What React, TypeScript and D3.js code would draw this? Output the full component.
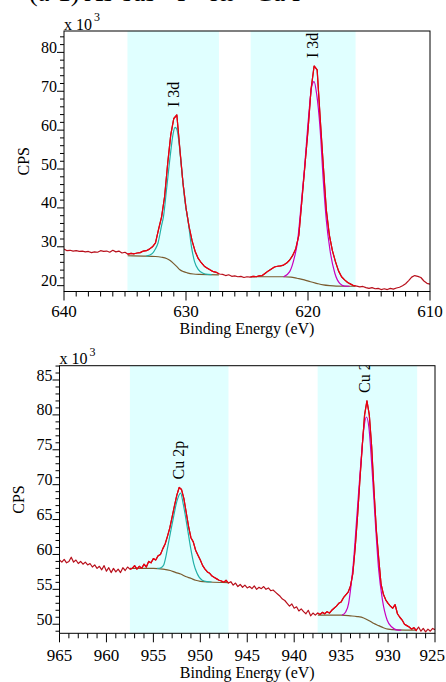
import React from 'react'
import * as d3 from 'd3'

// ---- I 3d panel (top) ----
const iStart = 640
const iStep = 0.25
// measured CPS (x1000), 8 values per 2 eV row
const iData = [
  29.4, 29.0, 29.1, 28.9, 29.0, 28.8, 28.9, 28.7, // 640
  28.8, 28.5, 28.7, 28.6, 29.0, 28.8, 28.9, 28.6, // 638
  29.1, 28.7, 28.9, 28.4, 28.6, 28.1, 28.3, 28.2, // 636
  28.4, 28.5, 28.9, 29.0, 29.4, 30.0, 31.0, 34.5, // 634
  37.7, 43.0, 51.5, 58.8, 63.0, 63.9, 55.0, 46.5, // 632
  40.0, 35.2, 31.5, 28.8, 27.0, 25.9, 25.0, 24.5, // 630
  24.0, 23.6, 23.4, 23.0, 22.9, 22.6, 22.8, 22.4, // 628
  22.5, 22.3, 22.4, 22.1, 22.3, 22.2, 22.4, 22.3, // 626
  22.5, 22.6, 23.2, 23.8, 24.3, 24.8, 25.0, 25.1, // 624
  25.3, 25.8, 26.6, 27.8, 29.5, 33.0, 42.0, 51.0, // 622
  60.0, 70.5, 76.5, 75.5, 63.0, 51.0, 39.5, 33.0, // 620
  29.0, 26.2, 23.8, 22.3, 21.5, 20.8, 20.4, 20.0, // 618
  19.9, 19.7, 19.8, 19.5, 19.3, 19.5, 19.2, 19.3, // 616
  19.0, 19.2, 19.0, 19.3, 19.1, 19.4, 19.6, 20.0, // 614
  20.5, 21.3, 22.2, 22.6, 22.4, 22.1, 21.2, 20.6, // 612
  20.4 // 610
]
const iComp1 = [
  [633.25, 27.6], [632.75, 28.3], [632.5, 29.5], [632.3, 30.9], [632.0, 35.5], [631.85, 37.7],
  [631.6, 44.6], [631.3, 53.2], [631.05, 59.2], [630.9, 60.7], [630.75, 60.2], [630.6, 57.5],
  [630.35, 49.7], [630.1, 42.0], [629.8, 36.0], [629.55, 30.0], [629.3, 26.2], [629.0, 24.2],
  [628.6, 23.2], [628.2, 22.9], [627.9, 22.85]
]
const iBg1 = [
  [634.8, 27.7], [633.5, 27.6], [632.5, 27.5], [632.0, 27.3], [631.6, 27.0], [631.3, 26.5],
  [631.05, 25.8], [630.75, 24.9], [630.5, 24.1], [630.2, 23.6], [629.9, 23.3], [629.4, 23.0],
  [628.9, 22.9], [627.3, 22.8]
]
const iComp2 = [
  [622.0, 22.25], [621.5, 23.6], [621.1, 27.45], [620.85, 31.5], [620.65, 37.7], [620.3, 49.75],
  [619.95, 63.5], [619.7, 71.2], [619.5, 72.5], [619.3, 69.5], [619.0, 60.0], [618.75, 47.2],
  [618.5, 36.9], [618.2, 29.2], [617.8, 23.2], [617.4, 20.6], [617.0, 19.9], [616.6, 19.85]
]
const iBg2 = [
  [624.7, 22.3], [622.0, 22.3], [621.4, 22.2], [620.9, 21.9], [620.3, 21.5], [619.8, 21.0],
  [619.3, 20.6], [618.75, 20.2], [618.2, 20.0], [617.7, 19.9], [616.1, 19.85]
]
const iRegions = [[634.8, 627.3], [624.7, 616.1]]
const iLabels = [[630.85, 'I 3d'], [619.45, 'I 3d']]

// ---- Cu 2p panel (bottom) ----
const cuStart = 965
const cuStep = 0.25
const cuData = [
  59.2, 58.9, 59.3, 58.8, 59.0, 59.6, 58.9, 59.2, // 965
  58.7, 59.0, 58.6, 58.9, 58.5, 58.7, 58.2, 58.5, // 963
  58.0, 58.3, 57.8, 58.4, 57.6, 58.1, 57.4, 58.0, // 961
  57.5, 57.9, 57.4, 58.1, 57.7, 58.2, 57.9, 58.0, // 959
  58.4, 57.9, 58.3, 58.0, 58.6, 58.2, 59.0, 58.8, // 957
  59.4, 59.2, 59.8, 60.0, 60.8, 61.5, 62.6, 63.8, // 955
  65.4, 67.0, 68.5, 69.6, 69.3, 68.0, 66.0, 64.0, // 953
  62.4, 61.8, 60.6, 59.9, 59.2, 58.4, 57.9, 57.5, // 951
  57.3, 56.9, 56.7, 56.5, 56.3, 56.2, 56.0, 56.3, // 949
  55.9, 56.1, 55.6, 55.9, 55.4, 55.7, 55.3, 55.6, // 947
  55.2, 55.4, 55.1, 55.5, 55.0, 55.3, 55.1, 55.4, // 945
  55.0, 55.2, 54.8, 54.9, 54.6, 54.3, 54.0, 53.6, // 943
  53.4, 53.0, 52.6, 52.9, 52.3, 52.5, 51.9, 52.2, // 941
  51.8, 51.5, 52.0, 51.2, 51.6, 51.3, 51.6, 51.4, // 939
  51.7, 51.5, 51.8, 51.6, 52.0, 52.3, 52.6, 53.0, // 937
  53.2, 53.8, 54.2, 54.6, 55.5, 57.3, 61.0, 65.5, // 935
  70.7, 75.5, 80.0, 82.0, 80.0, 75.5, 69.2, 63.5, // 933
  59.5, 55.8, 54.3, 53.5, 53.0, 52.6, 52.3, 52.8, // 931
  51.5, 51.0, 50.6, 50.0, 49.8, 49.6, 49.3, 49.5, // 929
  49.1, 49.6, 49.0, 49.4, 48.9, 49.3, 49.0, 49.4, // 927
  49.2 // 925
]
const cuComp1 = [
  [954.6, 58.0], [954.2, 58.1], [953.9, 58.5], [953.65, 59.8], [953.4, 61.6], [953.1, 63.7],
  [952.85, 65.4], [952.5, 67.6], [952.1, 68.8], [951.8, 67.1], [951.4, 64.0], [951.05, 61.1],
  [950.7, 58.7], [950.35, 57.3], [949.8, 56.3], [949.3, 56.1], [948.8, 56.05]
]
const cuBg1 = [
  [957.5, 58.0], [955.0, 58.0], [954.0, 57.9], [953.2, 57.7], [952.6, 57.4], [952.1, 57.2],
  [951.5, 56.8], [951.05, 56.6], [950.5, 56.3], [950.0, 56.15], [949.0, 56.05], [947.0, 55.95]
]
const cuComp2 = [
  [934.9, 51.3], [934.5, 51.8], [934.2, 53.0], [933.95, 55.5], [933.7, 58.7], [933.3, 65.9],
  [932.9, 73.1], [932.6, 77.8], [932.3, 79.7], [932.05, 78.3], [931.7, 72.1], [931.35, 64.5],
  [931.0, 57.8], [930.6, 53.5], [930.1, 50.6], [929.6, 49.6], [929.1, 49.2], [928.6, 49.15]
]
const cuBg2 = [
  [937.5, 51.3], [935.0, 51.3], [934.0, 51.2], [933.3, 51.1], [932.6, 50.9], [932.0, 50.5],
  [931.5, 50.1], [931.0, 49.8], [930.5, 49.5], [930.0, 49.3], [929.0, 49.2], [927.0, 49.15]
]
const cuRegions = [[957.5, 947.0], [937.5, 926.9]]
const cuLabels = [[952.1, 'Cu 2p'], [932.3, 'Cu 2p']]

const FONT = '"Liberation Serif", "Times New Roman", serif'
const SHADE = '#e0ffff'
const DATA_DARK = '#b8101c'
const DATA_RED = '#ea0010'
const BG_COLOR = '#7a5c30'
const W = 446

function Panel({ id, box, xDomain, yDomain, xMajor, xMinorStep, yMajor, yMinorStep, labelOffset,
  start, step, data, comps, bgs, regions, labels }) {
  const { left, right, top, bottom } = box
  const x = d3.scaleLinear().domain(xDomain).range([left, right])
  const y = d3.scaleLinear().domain(yDomain).range([bottom, top])

  const pts = data.map((v, i) => [start - i * step, v])
  const raw = d3.line().x(d => x(d[0])).y(d => y(d[1]))
  const smooth = d3.line().x(d => x(d[0])).y(d => y(d[1])).curve(d3.curveMonotoneX)

  const lo = Math.min(...xDomain), hi = Math.max(...xDomain)
  const xMinor = d3.range(lo, hi + 0.001, xMinorStep)
  const yMinor = d3.range(Math.ceil(yDomain[0] / yMinorStep) * yMinorStep, yDomain[1], yMinorStep)
  const isMaj = (arr, v) => arr.some(m => Math.abs(m - v) < 1e-6)

  const peakOf = e => d3.max(pts.filter(p => Math.abs(p[0] - e) <= 0.5), p => p[1])

  return (
    <g>
      <defs>
        <clipPath id={`plot-${id}`}>
          <rect x={left} y={top} width={right - left} height={bottom - top} />
        </clipPath>
        <clipPath id={`reg-${id}`}>
          {regions.map((r, i) => (
            <rect key={i} x={x(r[0])} y={top} width={x(r[1]) - x(r[0])} height={bottom - top} />
          ))}
        </clipPath>
      </defs>
      {regions.map((r, i) => (
        <rect key={i} x={x(r[0])} y={top} width={x(r[1]) - x(r[0])} height={bottom - top} fill={SHADE} />
      ))}
      <g clipPath={`url(#plot-${id})`} fill="none" strokeWidth={1.2} strokeLinejoin="round">
        <path d={raw(pts)} stroke={DATA_DARK} />
        <g clipPath={`url(#reg-${id})`}>
          {bgs.map((b, i) => <path key={'b' + i} d={smooth(b)} stroke={BG_COLOR} />)}
          <path d={smooth(comps[0])} stroke="#22b0a8" />
          <path d={smooth(comps[1])} stroke="#c800c0" />
          <path d={raw(pts)} stroke={DATA_RED} />
        </g>
        {labels.map(([e, t], i) => {
          const px = x(e), py = y(peakOf(e)) - 8
          return (
            <text key={i} transform={`translate(${px},${py}) rotate(-90)`} dominantBaseline="middle"
              fontFamily={FONT} fontSize={16} fill="#000" stroke="none">{t}</text>
          )
        })}
      </g>
      <rect x={left} y={top} width={right - left} height={bottom - top} fill="none" stroke="#000" strokeWidth={1} />
      {xMinor.map(v => (
        <line key={'xm' + v} x1={x(v)} x2={x(v)} y1={bottom} y2={bottom + (isMaj(xMajor, v) ? 9 : 5)} stroke="#000" />
      ))}
      {xMajor.map(v => {
        const px = x(v)
        const fits = px + 14 <= W
        return (
          <text key={'xl' + v} x={fits ? px : W - 1} y={bottom + labelOffset} textAnchor={fits ? 'middle' : 'end'}
            fontFamily={FONT} fontSize={17}>{v}</text>
        )
      })}
      {yMinor.map(v => (
        <line key={'ym' + v} x1={left - (isMaj(yMajor, v) ? 7 : 4)} x2={left} y1={y(v)} y2={y(v)} stroke="#000" />
      ))}
      {yMajor.map(v => (
        <text key={'yl' + v} x={left - 7} y={y(v) + 0.5} textAnchor="end" fontFamily={FONT} fontSize={16}>{v}</text>
      ))}
      <text x={left} y={top - 1.5} fontFamily={FONT} fontSize={16}>x 10</text>
      <text x={left + 30} y={top - 10} fontFamily={FONT} fontSize={12}>3</text>
      <text transform={`translate(${left - 39},${(top + bottom) / 2}) rotate(-90)`} textAnchor="middle"
        dominantBaseline="middle" fontFamily={FONT} fontSize={16}>CPS</text>
      <text x={(left + right) / 2} y={bottom + labelOffset + 17} textAnchor="middle" fontFamily={FONT} fontSize={16}>
        Binding Energy (eV)
      </text>
    </g>
  )
}

export default function App() {
  return (
    <svg width={W} height={682} style={{ position: 'absolute', left: 0, top: 0, background: '#fff' }}>
      <rect width={W} height={682} fill="#fff" />
      <text x={29} y={0.5} fontFamily={FONT} fontSize={26}>(a-1)  As-sus - I - on - Cu I</text>
      <Panel id="i3d" box={{ left: 64, right: 430, top: 31, bottom: 291.5 }}
        xDomain={[640, 610]} yDomain={[18.5, 85.5]}
        xMajor={[640, 630, 620, 610]} xMinorStep={1}
        yMajor={[20, 30, 40, 50, 60, 70, 80]} yMinorStep={2} labelOffset={25.5}
        start={iStart} step={iStep} data={iData} comps={[iComp1, iComp2]} bgs={[iBg1, iBg2]}
        regions={iRegions} labels={iLabels} />
      <Panel id="cu2p" box={{ left: 59.5, right: 435, top: 365.7, bottom: 633.3 }}
        xDomain={[965, 925]} yDomain={[48.7, 87.05]}
        xMajor={[965, 960, 955, 950, 945, 940, 935, 930, 925]} xMinorStep={1}
        yMajor={[50, 55, 60, 65, 70, 75, 80, 85]} yMinorStep={1} labelOffset={27.5}
        start={cuStart} step={cuStep} data={cuData} comps={[cuComp1, cuComp2]} bgs={[cuBg1, cuBg2]}
        regions={cuRegions} labels={cuLabels} />
    </svg>
  )
}
